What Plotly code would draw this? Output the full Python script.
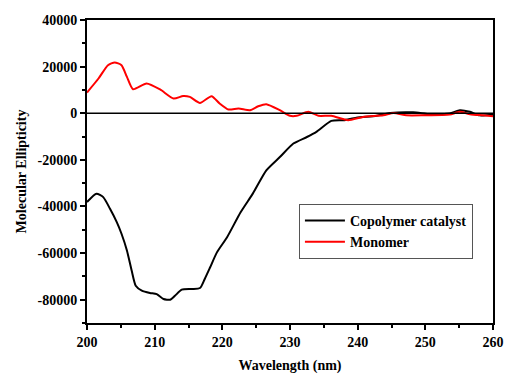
import plotly.graph_objects as go

# Copolymer catalyst (black)
cop_x = [200, 201.4, 202.4, 203.4, 204.4, 205.1, 205.9, 206.6, 207.2, 208.1, 209.3, 210.3,
         211.3, 212.3, 213.0, 214.0, 215.5, 216.7, 217.4, 218.2, 219.2, 220.7, 222.7, 224.5,
         226.5, 228.5, 230.5, 232.5, 233.9, 236.1, 237.9, 239.8, 242.8, 244.8, 248.2, 250.7,
         253.6, 255.1, 256.6, 258.0, 260]
cop_y = [-38100, -34500, -36000, -41000, -46700, -51700, -58900, -67500, -74000, -76100, -77100, -77600,
         -79700, -80000, -78300, -75700, -75400, -75000, -71100, -66100, -59700, -53200, -42500, -34500,
         -24500, -18800, -13000, -10200, -8000, -3300, -3000, -1900, -1100, 100, 400, -400,
         -100, 1300, 600, -900, -600]

# Monomer (red)
mon_x = [200, 201.7, 203.1, 204.1, 205.1, 205.9, 206.8, 208.8, 210.8, 212.8, 214.2, 215.2,
         216.7, 218.4, 219.6, 220.9, 222.4, 224.1, 225.3, 226.5, 228.5, 230, 231, 232.7,
         234.2, 236.1, 238.6, 240.8, 243.8, 245.3, 247.2, 249.7, 253.6, 255.1, 256.6, 258.5, 260]
mon_y = [8900, 14900, 20600, 21800, 20600, 15600, 10300, 12800, 10200, 6300, 7400, 7000,
         4400, 7300, 4200, 1600, 2000, 1300, 3000, 3900, 1300, -1100, -1100, 600,
         -1100, -1100, -3000, -1600, -900, 100, -900, -900, -600, 600, -400, -900, -1300]

x_ticks = [200, 210, 220, 230, 240, 250, 260]
y_ticks = [40000, 20000, 0, -20000, -40000, -60000, -80000]

font_family = "Liberation Serif"

fig = go.Figure()
fig.add_trace(go.Scatter(x=cop_x, y=cop_y, mode="lines", name="<b>Copolymer catalyst</b>",
                         line=dict(color="black", width=2, shape="spline", smoothing=0.6)))
fig.add_trace(go.Scatter(x=mon_x, y=mon_y, mode="lines", name="<b>Monomer</b>",
                         line=dict(color="#ff0000", width=2, shape="spline", smoothing=0.6)))

fig.add_hline(y=0, line=dict(color="black", width=1.5))

fig.update_layout(
    width=506, height=374,
    margin=dict(l=87, r=13, t=20, b=51),
    paper_bgcolor="white", plot_bgcolor="white",
    font=dict(family=font_family, size=14, color="black"),
    showlegend=True,
    legend=dict(x=0.522, y=0.393, xanchor="left", yanchor="top",
                bordercolor="#555555", borderwidth=1, bgcolor="white",
                font=dict(family=font_family, size=14, color="black"),
                tracegroupgap=0, itemwidth=40),
)
fig.update_xaxes(
    range=[200, 260], tickvals=x_ticks, ticktext=[f"<b>{v}</b>" for v in x_ticks],
    showline=True, linecolor="black", linewidth=2, mirror=True,
    ticks="outside", ticklen=5, tickwidth=1.5, tickcolor="black",
    minor=dict(dtick=5, ticks="outside", ticklen=3, tickwidth=1.5, tickcolor="black"),
    showgrid=False, zeroline=False, automargin=False,
    title=dict(text="<b>Wavelength (nm)</b>", font=dict(size=14, family=font_family), standoff=12),
    tickfont=dict(family=font_family, size=14),
)
fig.update_yaxes(
    range=[-90000, 40000], tickvals=y_ticks, ticktext=[f"<b>{v}</b>" for v in y_ticks],
    showline=True, linecolor="black", linewidth=2, mirror=True,
    ticks="outside", ticklen=5, tickwidth=1.5, tickcolor="black",
    minor=dict(dtick=10000, ticks="outside", ticklen=3, tickwidth=1.5, tickcolor="black"),
    showgrid=False, zeroline=False, automargin=False,
    title=dict(text="<b>Molecular Ellipticity</b>", font=dict(size=14, family=font_family), standoff=8),
    tickfont=dict(family=font_family, size=14),
)

fig.write_html("out.html")
